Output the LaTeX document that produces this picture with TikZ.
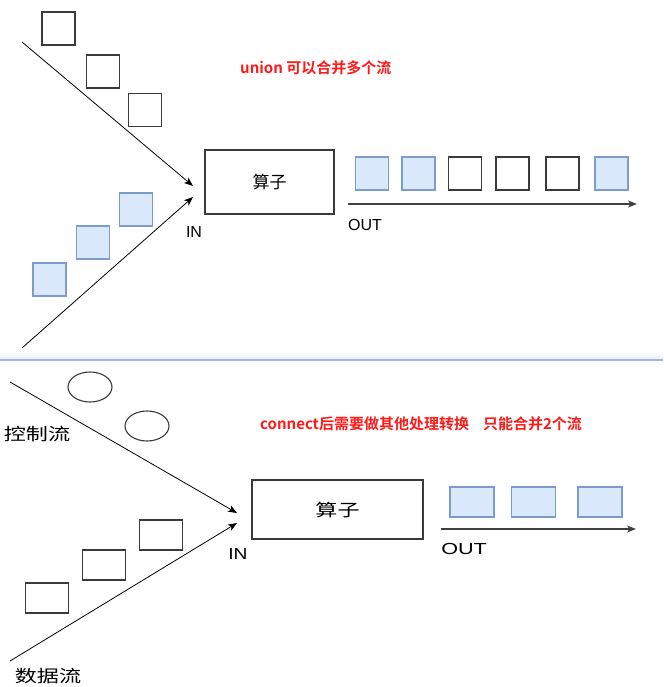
\documentclass[tikz,border=0pt]{standalone}
\usepackage{fontspec}
\usepackage{xcolor}
\setmainfont{Liberation Sans}
\newfontfamily\cjk{Noto Sans CJK SC}[BoldFont={Noto Sans CJK SC Bold}]
\usetikzlibrary{shapes.geometric, arrows.meta}
\definecolor{bluefill}{HTML}{DAE8FC}
\definecolor{bluedraw}{HTML}{7E9CCB}
\definecolor{boxdraw}{HTML}{3A3A3A}
\definecolor{notered}{HTML}{FF1A1A}
\definecolor{sepblue}{HTML}{9DB8E4}

\begin{document}
\begin{tikzpicture}[x=1pt,y=-1pt,
    wbox/.style={draw=boxdraw,line width=1.1pt,fill=white,inner sep=0pt,minimum width=33pt,minimum height=33pt},
    bbox/.style={draw=bluedraw,line width=1.1pt,fill=bluefill,inner sep=0pt,minimum width=33pt,minimum height=33pt},
    wrect/.style={wbox,minimum width=43pt,minimum height=30pt},
    brect/.style={bbox,minimum width=44pt,minimum height=30pt},
    token/.style={ellipse,draw=boxdraw,line width=1.1pt,inner sep=0pt,minimum width=44pt,minimum height=30pt},
    opbox/.style={draw=boxdraw,line width=1.1pt,inner sep=0pt,font=\cjk\fontsize{17}{20}\selectfont},
    flow/.style={-{Stealth[length=9pt,width=7pt,inset=2.5pt]},line width=0.8pt,black},
    outflow/.style={-{Stealth[length=9pt,width=7pt,inset=2.5pt]},line width=1.3pt,black!75},
    port/.style={inner sep=0pt,font=\fontsize{16}{18}\selectfont},
    note/.style={anchor=west,inner sep=0pt,text=notered,font=\cjk\bfseries\fontsize{15}{18}\selectfont},
    streamname/.style={inner sep=0pt,font=\cjk\fontsize{17}{20}\selectfont,xscale=1.3}]
    \useasboundingbox (0,0) rectangle (663,687);

    \coordinate (srcA) at (22,42);
    \coordinate (srcB) at (22,348);
    \coordinate (inA) at (193,186);
    \coordinate (inB) at (193,197);
    \draw[flow] (srcA) -- (inA);
    \draw[flow] (srcB) -- (inB);
    \node[wbox] (a1) at (58.5,28.5) {};
    \node[wbox] (a2) at (103,71.5) {};
    \node[wbox] (a3) at (145,110) {};
    \node[bbox] (b1) at (136,209.5) {};
    \node[bbox] (b2) at (93,242.5) {};
    \node[bbox] (b3) at (49.5,279.5) {};
    \node[opbox,minimum width=129pt,minimum height=64pt] (op1) at (269.5,182) {算子};
    \node[port] (in1) at (194,232) {IN};
    \node[note] (union) at (240,68) {union 可以合并多个流};
    \node[bbox] (u1) at (372,173.5) {};
    \node[bbox] (u2) at (418.5,173.5) {};
    \node[wbox] (u3) at (465,173.5) {};
    \node[wbox] (u4) at (512.5,173.5) {};
    \node[wbox] (u5) at (562.5,173.5) {};
    \node[bbox] (u6) at (611.5,173.5) {};
    \coordinate (outA) at (348,204);
    \coordinate (endA) at (637,204);
    \draw[outflow] (outA) -- (endA);
    \node[port,anchor=west] (out1) at (348,225) {OUT};

    \coordinate (sepL) at (0,360);
    \coordinate (sepR) at (663,360);
    \shade[top color=white,bottom color=sepblue!25] (0,351) rectangle (663,359.5);
    \draw[sepblue,line width=1.5pt] (sepL) -- (sepR);

    \coordinate (srcC) at (10,382);
    \coordinate (srcD) at (10,661);
    \coordinate (inC) at (237,513);
    \coordinate (inD) at (237,523);
    \draw[flow] (srcC) -- (inC);
    \draw[flow] (srcD) -- (inD);
    \node[token] (c1) at (90,387) {};
    \node[token] (c2) at (147,426) {};
    \node[wrect] (d1) at (161,535) {};
    \node[wrect] (d2) at (104,565) {};
    \node[wrect] (d3) at (47,598) {};
    \node[streamname] (ctrl) at (37,434) {控制流};
    \node[streamname] (data) at (48,676) {数据流};
    \node[opbox,minimum width=171pt,minimum height=59pt] (op2) at (337.5,509.5) {\scalebox{1.3}[1]{算子}};
    \node[port,xscale=1.2] (in2) at (238,554) {IN};
    \node[note] (connect) at (260,424) {connect后需要做其他处理转换\hspace{14pt}只能合并2个流};
    \node[brect] (v1) at (472,502) {};
    \node[brect] (v2) at (533.5,502) {};
    \node[brect] (v3) at (600,502) {};
    \coordinate (outB) at (441,529);
    \coordinate (endB) at (636,529);
    \draw[outflow] (outB) -- (endB);
    \node[port,anchor=west,xscale=1.35] (out2) at (441,548.5) {OUT};
\end{tikzpicture}
\end{document}
